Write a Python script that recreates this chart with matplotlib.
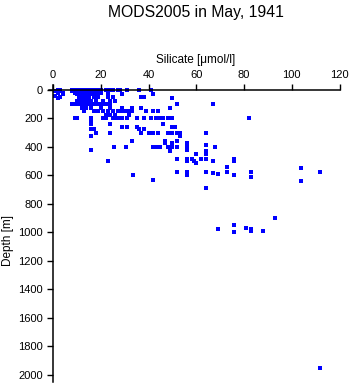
import matplotlib
matplotlib.use("Agg")
import matplotlib.pyplot as plt

plt.rcParams['font.family'] = ['Liberation Sans', 'DejaVu Sans']

title = "MODS2005 in May, 1941"
x_label = "Silicate [\u03bcmol/l]"
y_label = "Depth [m]"
x_ticks = [0, 20, 40, 60, 80, 100, 120]
y_ticks = [0, 200, 400, 600, 800, 1000, 1200, 1400, 1600, 1800, 2000]

# silicate values grouped by sampling depth
depth_levels = [0, 10, 20, 30, 45, 50, 55, 75, 100, 125, 150, 175, 200, 215,
                240, 260, 275, 300, 325, 360, 375, 385, 400, 420, 430, 450,
                485, 500, 515, 540, 545, 575, 580, 590, 600, 610, 630, 640,
                690, 900, 950, 970, 975, 990, 995, 1950]
silicate_at_level = [
    [2, 3, 8, 9, 10, 11, 12, 13, 14, 15, 16, 17, 18, 19, 20, 22, 24, 25, 27, 28, 31, 36, 41],
    [1, 3, 8, 9, 10, 11, 12, 13, 14, 16, 18],
    [2, 4, 9, 10, 11, 12, 13, 14, 15, 17, 20, 23],
    [4, 10, 11, 12, 13, 14, 16, 19, 29, 42],
    [1],
    [3, 11, 12, 13, 14, 15, 17, 19, 23, 25, 37, 38],
    [2, 50],
    [10, 11, 12, 13, 14, 15, 16, 18, 21, 24, 26],
    [8, 9, 10, 11, 12, 13, 14, 15, 16, 17, 18, 19, 20, 21, 22, 24, 52, 67],
    [12, 14, 16, 20, 24, 29, 33, 37, 49],
    [13, 17, 19, 21, 23, 25, 27, 29, 30, 32, 33, 39, 42, 44],
    [22, 24, 26, 32],
    [9, 10, 16, 21, 22, 25, 26, 27, 29, 31, 35, 38, 41, 43, 45, 46, 48, 50, 82],
    [16],
    [16, 24, 46],
    [29, 31, 35, 50, 51],
    [16, 17, 36, 38],
    [18, 24, 37, 40, 42, 44, 48, 50, 52, 53, 64],
    [16, 53],
    [33, 47, 52],
    [47, 50, 56],
    [64],
    [25.5, 30.5, 42, 43, 44, 45, 48, 50, 52, 56, 68],
    [16, 56],
    [49, 64],
    [60, 64],
    [52, 56, 58, 62, 64, 76],
    [23, 56, 59, 67, 76],
    [60],
    [73],
    [104],
    [52, 56, 64, 73, 83, 112],
    [67],
    [69],
    [33.5, 56, 76],
    [83],
    [42],
    [104],
    [64],
    [93],
    [76],
    [81],
    [69, 83],
    [88, 83],
    [76],
    [112],
]

silicate = []
depth = []
for d, vals in zip(depth_levels, silicate_at_level):
    for v in vals:
        silicate.append(v)
        depth.append(d)

W, H = 351, 384
fig = plt.figure(figsize=(W / 100, H / 100), dpi=100)
# axes run a little past 0 on the left and past 2000 at the bottom,
# so the axis lines overshoot like in the original
ax = fig.add_axes([49 / W, 1 - 382 / H, (339.5 - 49) / W, (382 - 85) / H])

ax.scatter(silicate, depth, marker='s', s=5, color='#0000ff', linewidths=0,
           clip_on=False)

ax.set_xlim(-1.7, 120)
ax.set_ylim(2050, -35)
ax.set_xticks(x_ticks)
ax.set_yticks(y_ticks)
ax.xaxis.tick_top()
ax.spines['top'].set_position(('data', 0))
ax.spines['left'].set_position(('data', 0))
ax.tick_params(axis='both', direction='out', length=4.3, width=1.0,
               labelsize=8, pad=3, colors='black')
ax.spines['right'].set_visible(False)
ax.spines['bottom'].set_visible(False)
ax.spines['top'].set_linewidth(1.1)
ax.spines['left'].set_linewidth(1.1)

fig.text(196 / W, 1 - 12 / H, title, ha='center', va='center', fontsize=11.3)
fig.text(196 / W, 1 - 60 / H, x_label, ha='center', va='center', fontsize=8.5)
fig.text(8 / W, 1 - 241 / H, y_label, ha='center', va='center',
         rotation=90, fontsize=8.5)

fig.savefig('out.png', dpi=100)
